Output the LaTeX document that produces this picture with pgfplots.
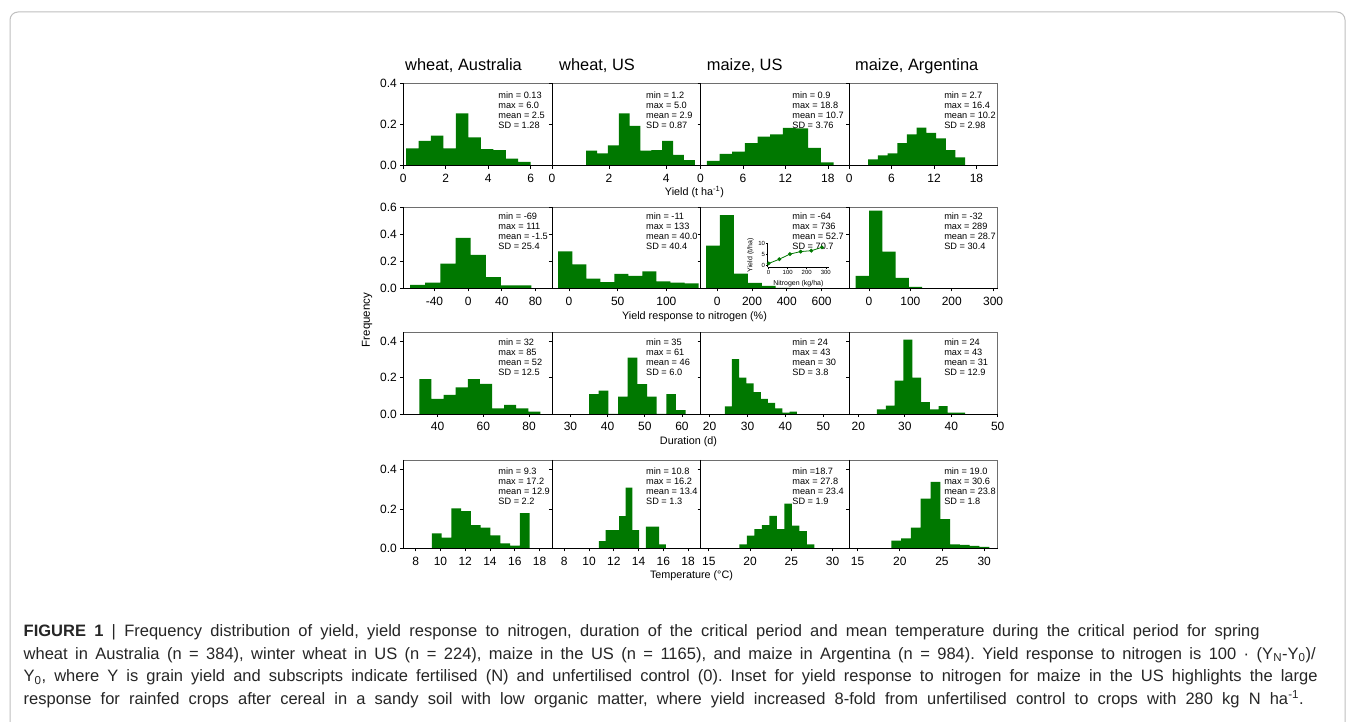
\documentclass[border=0pt]{standalone}
\usepackage{fontspec}
\setmainfont{Liberation Sans}
\newfontfamily\capfont{Liberation Sans}
\usepackage{pgfplots}
\pgfplotsset{compat=1.18}
\definecolor{bargreen}{RGB}{0,120,0}
\definecolor{framegray}{RGB}{110,110,110}
\newcommand\tickfont{\fontsize{12}{14}\selectfont}
\newcommand\statfont{\fontsize{9.2}{10}\selectfont}
\newcommand\frameLB{\draw[black, line width=0.8pt] (rel axis cs:0,1) -- (rel axis cs:0,0) -- (rel axis cs:1,0);}
\newcommand\stats[3]{\node[anchor=north west, inner sep=0pt, align=left, font=\statfont, yshift=#2] at (rel axis cs:#1,1) {#3};}
\pgfplotsset{
  panel/.style={scale only axis, width=148.6pt, anchor=south west, ymin=0, clip=false,
    tick pos=left, tick align=outside, major tick length=3pt,
    axis line style={framegray, line width=0.7pt},
    tick style={black, line width=0.7pt},
    ticklabel style={font=\tickfont},
    /pgf/number format/assume math mode=true,
    xticklabel style={yshift=-2pt},
    yticklabel style={/pgf/number format/fixed, /pgf/number format/fixed zerofill, /pgf/number format/precision=1},
  },
  rowA/.style={panel, height=82.4pt, ymax=0.4, ytick={0,0.2,0.4}},
  rowB/.style={panel, height=81.3pt, ymax=0.6, ytick={0,0.2,0.4,0.6}},
  rowC/.style={panel, height=81.7pt, ymax=0.45, ytick={0,0.2,0.4}},
  rowD/.style={panel, height=88.3pt, ymax=0.45, ytick={0,0.2,0.4}},
  noy/.style={yticklabels={}},
  bars/.style={ybar interval, fill=bargreen, draw=none},
}
\frenchspacing
\begin{document}
\begin{tikzpicture}[x=1pt,y=1pt]
\useasboundingbox (0,0) rectangle (1355,721);
\fill[white] (0,0) rectangle (1355,721);
\draw[black!25, line width=1pt, rounded corners=8pt] (10,-20) -- (10,709) -- (1345,709) -- (1345,-20);

% ---------------- Row 1: yield
\begin{axis}[rowA, at={(403.3pt,555.3pt)}, xmin=0, xmax=7, xtick={0,2,4,6}]
\addplot[bars] coordinates {(0.13,0.084) (0.717,0.120) (1.304,0.146) (1.891,0.084) (2.478,0.254) (3.065,0.138) (3.652,0.081) (4.239,0.076) (4.826,0.034) (5.413,0.018) (6.0,0)};
\frameLB
\stats{0.639}{-8pt}{min = 0.13\\max = 6.0\\mean = 2.5\\SD = 1.28}
\end{axis}
\begin{axis}[rowA, noy, at={(551.9pt,555.3pt)}, xmin=0, xmax=5.2, xtick={0,2,4}]
\addplot[bars] coordinates {(1.2,0.073) (1.58,0.060) (1.96,0.099) (2.34,0.254) (2.72,0.193) (3.10,0.073) (3.48,0.076) (3.86,0.120) (4.24,0.052) (4.62,0.027) (5.0,0)};
\frameLB
\stats{0.633}{-8pt}{min = 1.2\\max = 5.0\\mean = 2.9\\SD = 0.87}
\end{axis}
\begin{axis}[rowA, noy, at={(700.5pt,555.3pt)}, xmin=0, xmax=21, xtick={0,6,12,18}]
\addplot[bars] coordinates {(0.9,0.024) (2.69,0.057) (4.48,0.068) (6.27,0.110) (8.06,0.141) (9.85,0.152) (11.64,0.183) (13.43,0.181) (15.22,0.087) (17.01,0.016) (18.8,0)};
\frameLB
\stats{0.617}{-8pt}{min = 0.9\\max = 18.8\\mean = 10.7\\SD = 3.76}
\end{axis}
\begin{axis}[rowA, noy, at={(849.1pt,555.3pt)}, xmin=0, xmax=21, xtick={0,6,12,18}]
\addplot[bars] coordinates {(2.7,0.031) (4.07,0.050) (5.44,0.060) (6.81,0.109) (8.18,0.152) (9.55,0.185) (10.92,0.159) (12.29,0.133) (13.66,0.076) (15.03,0.040) (16.4,0)};
\frameLB
\stats{0.639}{-8pt}{min = 2.7\\max = 16.4\\mean = 10.2\\SD = 2.98}
\end{axis}

% ---------------- Row 2: yield response to N
\begin{axis}[rowB, at={(403.3pt,432.7pt)}, xmin=-77, xmax=99.5, xtick={-40,0,40,80}]
\addplot[bars] coordinates {(-69,0.025) (-51,0.042) (-33,0.182) (-15,0.372) (3,0.247) (21,0.083) (39,0.022) (57,0.022) (75,0)};
\frameLB
\stats{0.639}{-6pt}{min = -69\\max = 111\\mean = -1.5\\SD = 25.4}
\end{axis}
\begin{axis}[rowB, noy, at={(551.9pt,432.7pt)}, xmin=-17.5, xmax=135, xtick={0,50,100}]
\addplot[bars] coordinates {(-11,0.272) (3.4,0.177) (17.8,0.072) (32.2,0.045) (46.6,0.107) (61,0.091) (75.4,0.124) (89.8,0.051) (104.2,0.042) (118.6,0.036) (133,0)};
\frameLB
\stats{0.633}{-6pt}{min = -11\\max = 133\\mean = 40.0\\SD = 40.4}
\end{axis}
\begin{axis}[rowB, noy, at={(700.5pt,432.7pt)}, xmin=-96, xmax=758, xtick={0,200,400,600}]
\addplot[bars] coordinates {(-64,0.315) (16,0.540) (96,0.108) (176,0.040) (256,0.017) (336,0.004) (416,0.002) (496,0.001) (576,0.0) (656,0.001) (736,0)};
\frameLB
\stats{0.617}{-6pt}{min = -64\\max = 736\\mean = 52.7\\SD = 70.7}
\end{axis}
\begin{axis}[rowB, noy, at={(849.1pt,432.7pt)}, xmin=-48, xmax=311, xtick={0,100,200,300}]
\addplot[bars] coordinates {(-32,0.091) (0.1,0.573) (32.2,0.270) (64.3,0.076) (96.4,0.010) (128.5,0.002) (160.6,0.001) (192.7,0) (224.8,0) (256.9,0.001) (289,0)};
\frameLB
\stats{0.639}{-6pt}{min = -32\\max = 289\\mean = 28.7\\SD = 30.4}
\end{axis}

% ---------------- Row 3: duration
\begin{axis}[rowC, at={(403.3pt,307pt)}, xmin=25, xmax=90, xtick={40,60,80}]
\addplot[bars] coordinates {(32,0.192) (37.3,0.083) (42.6,0.105) (47.9,0.147) (53.2,0.192) (58.5,0.166) (63.8,0.031) (69.1,0.050) (74.4,0.031) (79.7,0.013) (85,0)};
\frameLB
\stats{0.639}{-6.7pt}{min = 32\\max = 85\\mean = 52\\SD = 12.5}
\end{axis}
\begin{axis}[rowC, noy, at={(551.9pt,307pt)}, xmin=25, xmax=65, xtick={30,40,50,60}]
\addplot[bars] coordinates {(35,0.110) (37.6,0.129) (40.2,0) (42.8,0.096) (45.4,0.310) (48,0.164) (50.6,0.096) (53.2,0) (55.8,0.110) (58.4,0.022) (61,0)};
\frameLB
\stats{0.633}{-6.7pt}{min = 35\\max = 61\\mean = 46\\SD = 6.0}
\end{axis}
\begin{axis}[rowC, noy, at={(700.5pt,307pt)}, xmin=17.6, xmax=56.8, xtick={20,30,40,50}]
\addplot[bars] coordinates {(24,0.042) (25.9,0.302) (27.8,0.200) (29.7,0.168) (31.6,0.120) (33.5,0.083) (35.4,0.061) (37.3,0.031) (39.2,0.007) (41.1,0.013) (43,0)};
\frameLB
\stats{0.617}{-6.7pt}{min = 24\\max = 43\\mean = 30\\SD = 3.8}
\end{axis}
\begin{axis}[rowC, noy, at={(849.1pt,307pt)}, xmin=18, xmax=50, xtick={20,30,40,50}]
\addplot[bars] coordinates {(24,0.026) (25.9,0.046) (27.8,0.184) (29.7,0.410) (31.6,0.200) (33.5,0.066) (35.4,0.026) (37.3,0.044) (39.2,0.007) (41.1,0.007) (43,0)};
\frameLB
\stats{0.639}{-6.7pt}{min = 24\\max = 43\\mean = 31\\SD = 12.9}
\end{axis}

% ---------------- Row 4: temperature
\begin{axis}[rowD, at={(403.3pt,172.7pt)}, xmin=7, xmax=19, xtick={8,10,12,14,16,18}]
\addplot[bars] coordinates {(9.3,0.076) (10.09,0.054) (10.88,0.203) (11.67,0.190) (12.46,0.118) (13.25,0.106) (14.04,0.066) (14.83,0.025) (15.62,0.013) (16.41,0.179) (17.2,0)};
\frameLB
\stats{0.639}{-8pt}{min = 9.3\\max = 17.2\\mean = 12.9\\SD = 2.2}
\end{axis}
\begin{axis}[rowD, noy, at={(551.9pt,172.7pt)}, xmin=7, xmax=19, xtick={8,10,12,14,16,18}]
\addplot[bars] coordinates {(10.8,0.037) (11.34,0.093) (11.88,0.093) (12.42,0.164) (12.96,0.309) (13.5,0.093) (14.04,0) (14.58,0.110) (15.12,0.110) (15.66,0.020) (16.2,0)};
\frameLB
\stats{0.633}{-8pt}{min = 10.8\\max = 16.2\\mean = 13.4\\SD = 1.3}
\end{axis}
\begin{axis}[rowD, noy, at={(700.5pt,172.7pt)}, xmin=14, xmax=32, xtick={15,20,25,30}]
\addplot[bars] coordinates {(18.7,0.020) (19.61,0.064) (20.52,0.098) (21.43,0.118) (22.34,0.165) (23.25,0.098) (24.16,0.228) (25.07,0.115) (25.98,0.088) (26.89,0.020) (27.8,0)};
\frameLB
\stats{0.617}{-8pt}{min =18.7\\max = 27.8\\mean = 23.4\\SD = 1.9}
\end{axis}
\begin{axis}[rowD, noy, at={(849.1pt,172.7pt)}, xmin=14, xmax=31.6, xtick={15,20,25,30}]
\addplot[bars] coordinates {(19,0.039) (20.16,0.051) (21.32,0.106) (22.48,0.253) (23.64,0.338) (24.8,0.149) (25.96,0.020) (27.12,0.017) (28.28,0.012) (29.44,0.007) (30.6,0)};
\frameLB
\stats{0.639}{-8pt}{min = 19.0\\max = 30.6\\mean = 23.8\\SD = 1.8}
\end{axis}

% ---------------- Inset
\begin{axis}[scale only axis, anchor=south west, at={(767.7pt,453.5pt)}, width=61.3pt, height=24.2pt,
  xmin=-5, xmax=317, ymin=-0.8, ymax=10, axis lines*=left, axis line style={-, black, line width=0.6pt},
  tick align=outside, major tick length=1.5pt, tick style={black, line width=0.5pt},
  xtick={0,100,200,300}, ytick={0,5,10},
  ticklabel style={font=\fontsize{6}{7}\selectfont, inner sep=1pt},
  /pgf/number format/assume math mode=true,
  xlabel={Nitrogen (kg/ha)}, ylabel={Yield (t/ha)},
  label style={font=\fontsize{7}{8}\selectfont},
  xlabel style={yshift=-1pt}, ylabel style={yshift=0pt}, clip=false]
\addplot[bargreen, line width=0.8pt, mark=*, mark size=1.5pt, mark options={fill=bargreen}] coordinates {(0,1.0) (56,2.9) (112,5.2) (168,6.3) (224,6.7) (280,8.2)};
\end{axis}

% ---------------- Titles and labels
\begin{scope}[every node/.style={inner sep=0pt}]
\node[anchor=base west, font=\fontsize{16.4}{19}\selectfont] at (405,650.3) {wheat, Australia};
\node[anchor=base west, font=\fontsize{16.4}{19}\selectfont] at (559,650.3) {wheat, US};
\node[anchor=base west, font=\fontsize{16.4}{19}\selectfont] at (706.7,650.3) {maize, US};
\node[anchor=base west, font=\fontsize{16.4}{19}\selectfont] at (855,650.3) {maize, Argentina};
\node[font=\fontsize{10.8}{13}\selectfont] at (694.5,529.3) {Yield (t ha\textsuperscript{-1})};
\node[font=\fontsize{10.8}{13}\selectfont] at (694.5,404.3) {Yield response to nitrogen (\%)};
\node[font=\fontsize{10.8}{13}\selectfont] at (688.5,279) {Duration (d)};
\node[font=\fontsize{10.8}{13}\selectfont] at (691.5,145.3) {Temperature (°C)};
\node[font=\fontsize{11.5}{13}\selectfont, rotate=90] at (367,401) {Frequency};
% caption
\node[anchor=base west, font=\fontsize{16.5}{24}\selectfont\capfont, text=black!85] at (23.5,84.3) {\makebox[1236pt][s]{\textbf{FIGURE 1} | Frequency distribution of yield, yield response to nitrogen, duration of the critical period and mean temperature during the critical period for spring}};
\node[anchor=base west, font=\fontsize{16.5}{24}\selectfont\capfont, text=black!85] at (23.5,61.7) {\makebox[1292pt][s]{wheat in Australia (n = 384), winter wheat in US (n = 224), maize in the US (n = 1165), and maize in Argentina (n = 984). Yield response to nitrogen is 100 · (Y\textsubscript{N}-Y\textsubscript{0})/}};
\node[anchor=base west, font=\fontsize{16.5}{24}\selectfont\capfont, text=black!85] at (23.5,39.3) {\makebox[1294pt][s]{Y\textsubscript{0}, where Y is grain yield and subscripts indicate fertilised (N) and unfertilised control (0). Inset for yield response to nitrogen for maize in the US highlights the large}};
\node[anchor=base west, font=\fontsize{16.5}{24}\selectfont\capfont, text=black!85] at (23.5,16.7) {\makebox[1280pt][s]{response for rainfed crops after cereal in a sandy soil with low organic matter, where yield increased 8-fold from unfertilised control to crops with 280 kg N ha\textsuperscript{-1}.}};
\end{scope}
\end{tikzpicture}
\end{document}
